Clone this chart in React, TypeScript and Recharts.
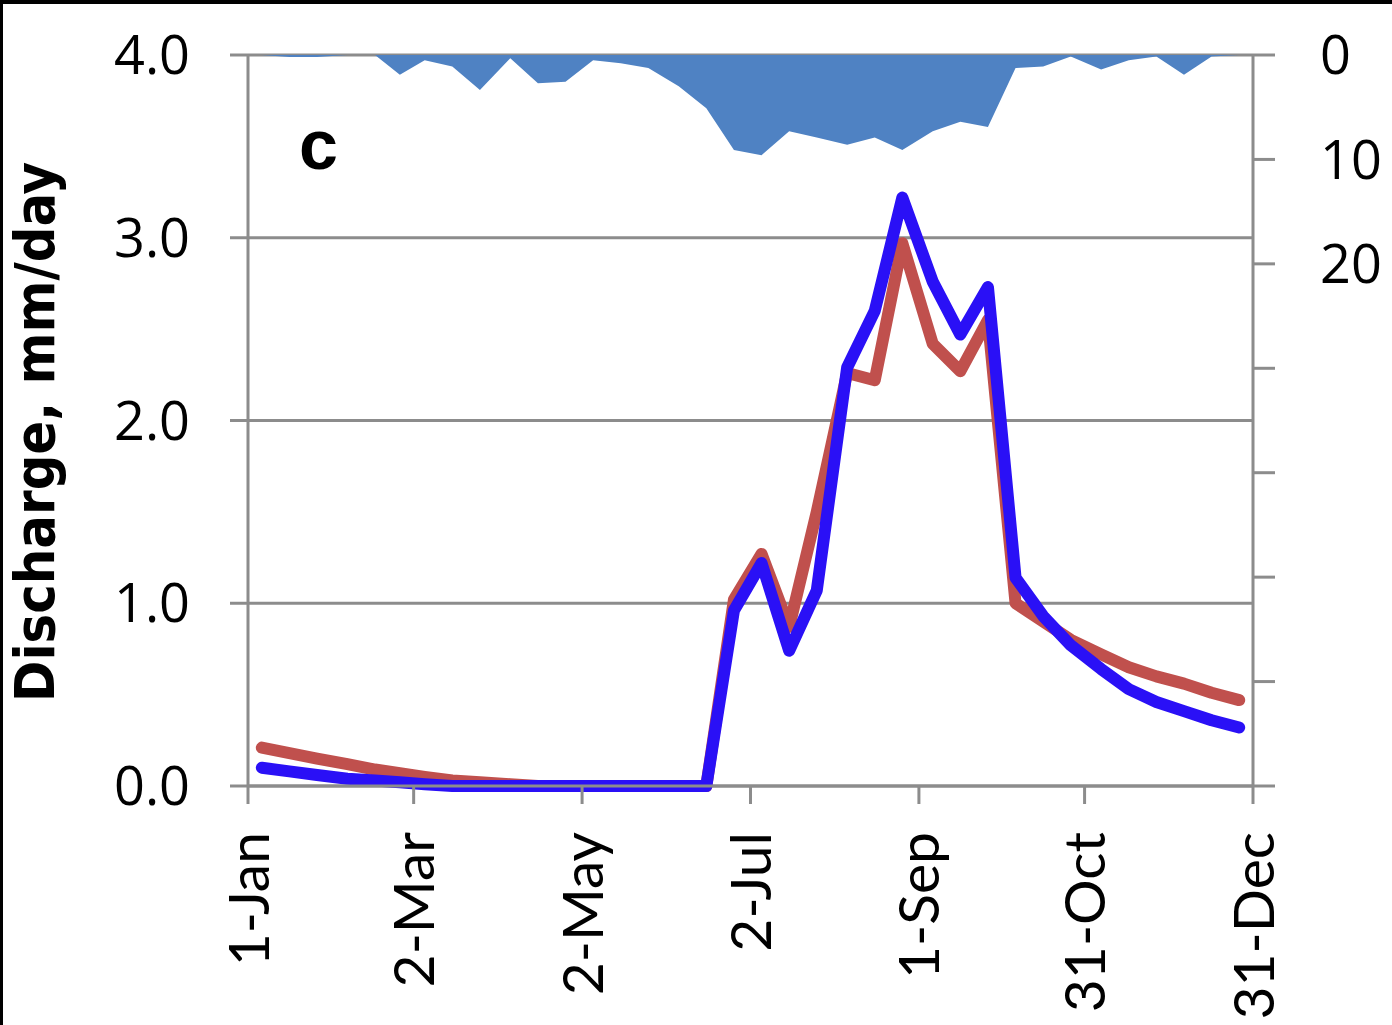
import { ComposedChart, Area, Line, XAxis, YAxis, CartesianGrid } from 'recharts'

// dekad mid-days (day of year, 0 = 1-Jan)
const days = [5, 15, 25, 36, 46, 55, 64, 74, 84, 95, 105, 115, 125, 135, 145, 156, 166, 176, 186, 196, 206, 217, 227, 237, 248, 258, 268, 278, 288, 298, 309, 319, 329, 339, 349, 359]

// precipitation, right axis (inverted)
const rainfall = [0, 0.2, 0.2, 0, 0, 1.9, 0.5, 1.1, 3.35, 0.3, 2.7, 2.55, 0.5, 0.8, 1.25, 3.0, 5.1, 9.1, 9.6, 7.3, 7.9, 8.6, 7.9, 9.1, 7.3, 6.4, 6.9, 1.25, 1.1, 0.15, 1.4, 0.5, 0.15, 1.9, 0.15, 0]

// discharge, mm/day
const observed = [0.21, 0.18, 0.15, 0.12, 0.09, 0.07, 0.05, 0.03, 0.02, 0.01, 0, 0, 0, 0, 0, 0, 0, 1.02, 1.27, 0.87, 1.5, 2.26, 2.22, 2.97, 2.42, 2.27, 2.55, 1.0, 0.9, 0.8, 0.72, 0.65, 0.6, 0.56, 0.51, 0.47]
const simulated = [0.1, 0.08, 0.06, 0.04, 0.03, 0.02, 0.01, 0, 0, 0, 0, 0, 0, 0, 0, 0, 0, 0.96, 1.22, 0.74, 1.07, 2.29, 2.6, 3.22, 2.76, 2.47, 2.73, 1.14, 0.93, 0.77, 0.64, 0.53, 0.46, 0.41, 0.36, 0.32]

const dateTicks = [0, 60, 121, 182, 243, 303, 364]
const dateLabels = ['1-Jan', '2-Mar', '2-May', '2-Jul', '1-Sep', '31-Oct', '31-Dec']
const leftTicks = [0, 1, 2, 3, 4]
const rightTicks = [0, 10, 20, 30, 40, 50, 60, 70]
const rightLabelMax = 20

const data = days.map((d, i) => ({
  day: d,
  rain: rainfall[i],
  obs: observed[i],
  sim: simulated[i],
}))

const GRID = '#8c8c8c'

const DateTick = (props: any) => {
  const { x, y, payload } = props
  const idx = dateTicks.indexOf(payload.value)
  return (
    <text
      x={x}
      y={y}
      transform={`rotate(-90 ${x} ${y})`}
      textAnchor="end"
      dy="0.36em"
      fontFamily="Lato, 'Open Sans', sans-serif"
      fontSize={57}
      fill="#000"
    >
      {dateLabels[idx]}
    </text>
  )
}

export default function App() {
  return (
    <div
      style={{
        position: 'absolute',
        left: 0,
        top: 0,
        width: 1392,
        height: 1025,
        background: '#fff',
        overflow: 'hidden',
      }}
    >
      <ComposedChart
        width={1392}
        height={1025}
        data={data}
        margin={{ top: 55, right: 0, bottom: 0, left: 0 }}
      >
        <CartesianGrid
          yAxisId="q"
          vertical={false}
          stroke={GRID}
          strokeWidth={3}
        />
        <XAxis
          dataKey="day"
          type="number"
          domain={[0, 364]}
          ticks={dateTicks}
          height={239}
          interval={0}
          stroke={GRID}
          strokeWidth={3}
          tickSize={18}
          tickMargin={28}
          tick={<DateTick />}
        />
        <YAxis
          yAxisId="q"
          orientation="left"
          width={248}
          domain={[0, 4]}
          ticks={leftTicks}
          interval={0}
          tickFormatter={(v: number) => v.toFixed(1)}
          stroke={GRID}
          strokeWidth={3}
          tickSize={18}
          tickMargin={40}
          tick={{ fontSize: 54, fontFamily: "'Open Sans', sans-serif", fill: '#000' }}
        />
        <YAxis
          yAxisId="p"
          orientation="right"
          width={139}
          domain={[0, 70]}
          reversed
          ticks={rightTicks}
          interval={0}
          tickFormatter={(v: number) => (v <= rightLabelMax ? String(v) : '')}
          stroke={GRID}
          strokeWidth={3}
          tickSize={22}
          tickMargin={45}
          tick={{ fontSize: 54, fontFamily: "'Open Sans', sans-serif", fill: '#000', textAnchor: 'start' }}
        />
        <Area
          yAxisId="p"
          dataKey="rain"
          type="linear"
          fill="#4f82c3"
          fillOpacity={1}
          stroke="none"
          isAnimationActive={false}
        />
        <Line
          yAxisId="q"
          dataKey="obs"
          type="linear"
          stroke="#c0504d"
          strokeWidth={12}
          strokeLinecap="round"
          strokeLinejoin="round"
          dot={false}
          isAnimationActive={false}
        />
        <Line
          yAxisId="q"
          dataKey="sim"
          type="linear"
          stroke="#2a10f6"
          strokeWidth={12}
          strokeLinecap="round"
          strokeLinejoin="round"
          dot={false}
          isAnimationActive={false}
        />
      </ComposedChart>

      <svg
        width={1392}
        height={1025}
        style={{ position: 'absolute', left: 0, top: 0, pointerEvents: 'none' }}
      >
        <text
          x={54}
          y={432}
          transform="rotate(-90 54 432)"
          textAnchor="middle"
          fontFamily="'Liberation Sans Narrow', 'DejaVu Sans Condensed', 'Liberation Sans', sans-serif"
          fontWeight="bold"
          fontSize={56}
          textLength={540}
          lengthAdjust="spacingAndGlyphs"
          fill="#000"
        >
          Discharge, mm/day
        </text>
        <text
          x={299}
          y={169}
          fontFamily="'Liberation Sans', Arial, sans-serif"
          fontWeight="bold"
          fontSize={70}
          fill="#000"
        >
          c
        </text>
      </svg>

      <div style={{ position: 'absolute', left: 0, top: 0, width: 1392, height: 4, background: '#000' }} />
      <div style={{ position: 'absolute', left: 0, top: 0, width: 3, height: 1025, background: '#000' }} />
    </div>
  )
}
